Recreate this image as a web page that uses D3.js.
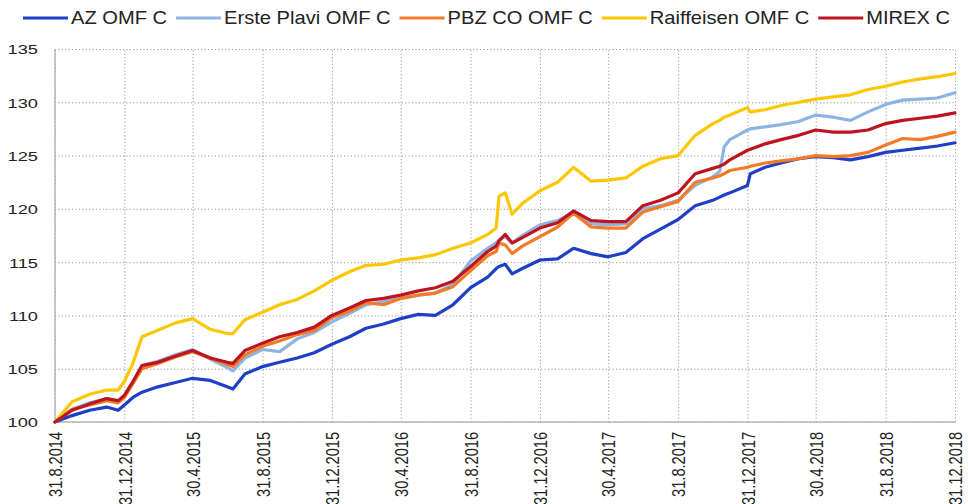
<!DOCTYPE html>
<html><head><meta charset="utf-8">
<script src="https://cdn.jsdelivr.net/npm/d3@7"></script>
<style>
body{margin:0;background:#fff;}
svg{display:block;font-family:"Liberation Sans",Arial,sans-serif;}
</style>
</head><body><svg id="c" width="968" height="504"></svg>
<script>
const dates = ["2014-08-31","2014-09-30","2014-10-31","2014-11-30","2014-12-20","2014-12-31",
"2015-01-15","2015-01-31","2015-02-28","2015-03-31","2015-04-30","2015-05-31","2015-06-30","2015-07-10","2015-07-31","2015-08-31","2015-09-30","2015-10-31","2015-11-30","2015-12-31",
"2016-01-31","2016-02-29","2016-03-31","2016-04-30","2016-05-31","2016-06-30","2016-07-31","2016-08-31","2016-09-30","2016-10-15","2016-10-20","2016-10-31","2016-11-12","2016-11-30","2016-12-31",
"2017-01-31","2017-02-28","2017-03-31","2017-04-30","2017-05-31","2017-06-30","2017-07-31","2017-08-31","2017-09-30","2017-10-31","2017-11-12","2017-11-20","2017-11-30","2017-12-31",
"2018-01-05","2018-01-31","2018-02-28","2018-03-31","2018-04-30","2018-05-31","2018-06-30","2018-07-31","2018-08-31","2018-09-30","2018-10-31","2018-11-30","2018-12-31"];

const azOmfC = [100.0,100.6,101.1,101.4,101.1,101.6,
102.3,102.8,103.3,103.7,104.1,103.9,103.3,103.1,104.5,105.2,105.6,106.0,106.5,107.3,
108.0,108.8,109.2,109.7,110.1,110.0,111.0,112.6,113.6,114.4,114.6,114.8,113.9,114.4,115.2,
115.3,116.3,115.8,115.5,115.9,117.2,118.1,119.0,120.3,120.8,121.1,121.3,121.5,122.2,
123.3,123.9,124.3,124.7,124.9,124.8,124.6,124.9,125.3,125.5,125.7,125.9,126.2];

const erstePlaviOmfC = [100.0,101.2,101.8,102.2,101.9,102.5,
103.7,105.3,105.7,106.3,106.8,105.9,105.1,104.8,106.0,106.8,106.6,107.8,108.4,109.4,
110.2,111.0,111.3,111.6,111.9,112.1,112.9,115.1,116.3,116.8,117.1,117.4,116.8,117.5,118.5,
118.9,119.7,118.6,118.5,118.6,120.0,120.3,120.8,122.2,123.0,123.5,125.8,126.5,127.4,
127.5,127.7,127.9,128.2,128.8,128.6,128.3,129.1,129.8,130.2,130.3,130.4,130.9];

const pbzCoOmfC = [100.0,101.2,101.6,102.0,101.8,102.3,
103.6,105.0,105.5,106.1,106.6,106.0,105.4,105.2,106.3,107.1,107.6,108.2,108.6,109.8,
110.4,111.2,111.0,111.6,111.9,112.1,112.7,114.2,115.6,116.0,116.8,116.6,115.8,116.5,117.4,
118.3,119.6,118.3,118.2,118.2,119.7,120.2,120.7,122.5,122.9,123.1,123.3,123.6,123.9,
124.0,124.3,124.5,124.7,125.0,124.9,125.0,125.3,126.0,126.6,126.5,126.8,127.2];

const raiffeisenOmfC = [100.0,101.9,102.6,103.0,103.0,103.8,
105.5,108.0,108.6,109.3,109.7,108.7,108.3,108.3,109.6,110.3,111.0,111.5,112.3,113.3,
114.1,114.7,114.8,115.2,115.4,115.7,116.3,116.8,117.6,118.2,121.2,121.5,119.5,120.5,121.7,
122.5,123.9,122.6,122.7,122.9,124.0,124.7,125.0,126.9,128.0,128.3,128.6,128.8,129.5,
129.1,129.3,129.7,130.0,130.3,130.5,130.7,131.2,131.5,131.9,132.2,132.4,132.7];

const mirexC = [100.0,101.1,101.7,102.2,102.0,102.5,
103.8,105.3,105.6,106.2,106.7,106.0,105.6,105.5,106.7,107.4,108.0,108.4,108.9,110.0,
110.7,111.4,111.6,111.9,112.3,112.6,113.2,114.6,116.0,116.5,117.0,117.6,116.8,117.3,118.2,
118.7,119.8,118.9,118.8,118.8,120.3,120.8,121.5,123.3,123.8,124.0,124.2,124.6,125.5,
125.6,126.1,126.5,126.9,127.4,127.2,127.2,127.4,128.0,128.3,128.5,128.7,129.0];

const seriesNames = ["AZ OMF C","Erste Plavi OMF C","PBZ CO OMF C","Raiffeisen OMF C","MIREX C"];
const seriesValues = [azOmfC, erstePlaviOmfC, pbzCoOmfC, raiffeisenOmfC, mirexC];
const seriesColors = ["#1f3fc6","#8db4e2","#f37a26","#fcc700","#bd1520"];

const xTickDates = ["2014-08-31","2014-12-31","2015-04-30","2015-08-31","2015-12-31","2016-04-30","2016-08-31",
"2016-12-31","2017-04-30","2017-08-31","2017-12-31","2018-04-30","2018-08-31","2018-12-31"];
const yTicks = [100,105,110,115,120,125,130,135];

const parse = d3.utcParse("%Y-%m-%d");
const fmt = d3.utcFormat("%-d.%-m.%Y");
const svg = d3.select("#c");
const M = {left:55, right:955, top:49, bottom:422};

const x = d3.scaleUtc().domain([parse(dates[0]), parse(dates[dates.length-1])]).range([M.left, M.right]);
const y = d3.scaleLinear().domain([100,135]).range([M.bottom, M.top]);

// X axis with vertical gridlines
const gx = svg.append("g").attr("transform", `translate(0,${M.bottom})`)
  .call(d3.axisBottom(x).tickValues(xTickDates.map(parse)).tickFormat(fmt).tickSize(-(M.bottom-M.top)));
gx.select(".domain").remove();
gx.selectAll(".tick line").attr("stroke","#9a9a9a").attr("stroke-dasharray","1.2,2.2");
gx.selectAll(".tick text")
  .attr("x",0).attr("y",0).attr("dy","0.36em")
  .attr("text-anchor","end")
  .attr("font-size",14.6).attr("fill","#222")
  .attr("transform","translate(0,10) scale(1.28,1) rotate(-90)");

// Y axis with horizontal gridlines
const gy = svg.append("g").attr("transform", `translate(${M.left},0)`)
  .call(d3.axisLeft(y).tickValues(yTicks).tickFormat(d3.format("d")).tickSize(-(M.right-M.left)));
gy.select(".domain").remove();
gy.selectAll(".tick line").attr("stroke","#9a9a9a").attr("stroke-dasharray","1.2,2.2");
gy.selectAll(".tick text")
  .attr("x",0).attr("dy","0.36em")
  .attr("text-anchor","end")
  .attr("font-size",13.5).attr("fill","#222")
  .attr("transform","translate(-17,0) scale(1.35,1)");

// axis lines
svg.append("line").attr("x1",M.left).attr("x2",M.right).attr("y1",M.bottom).attr("y2",M.bottom)
  .attr("stroke","#b8b8b8").attr("stroke-width",1.5);
svg.append("line").attr("x1",M.left).attr("x2",M.left).attr("y1",M.top).attr("y2",M.bottom)
  .attr("stroke","#b8b8b8").attr("stroke-width",1.5);

// series lines
const pDates = dates.map(parse);
const line = d3.line().x(d => x(d[0])).y(d => y(d[1]));
seriesValues.forEach((vals, i) => {
  svg.append("path")
    .datum(pDates.map((dt, j) => [dt, vals[j]]))
    .attr("fill","none").attr("stroke",seriesColors[i]).attr("stroke-width",3.2)
    .attr("stroke-linejoin","round").attr("stroke-linecap","round")
    .attr("d", line);
});

// legend
const leg = svg.append("g");
let cx = 23;
const ly = 18, sx = 1.15;
seriesNames.forEach((name, i) => {
  leg.append("line").attr("x1",cx).attr("x2",cx+45).attr("y1",ly).attr("y2",ly)
    .attr("stroke",seriesColors[i]).attr("stroke-width",3);
  const t = leg.append("text").text(name)
    .attr("font-size",17.5).attr("fill","#222").attr("dy","0.36em")
    .attr("transform",`translate(${cx+48},${ly}) scale(${sx},1)`);
  const w = t.node().getComputedTextLength()*sx;
  cx += 45 + 3 + w + 9;
});
</script>
</body></html>
